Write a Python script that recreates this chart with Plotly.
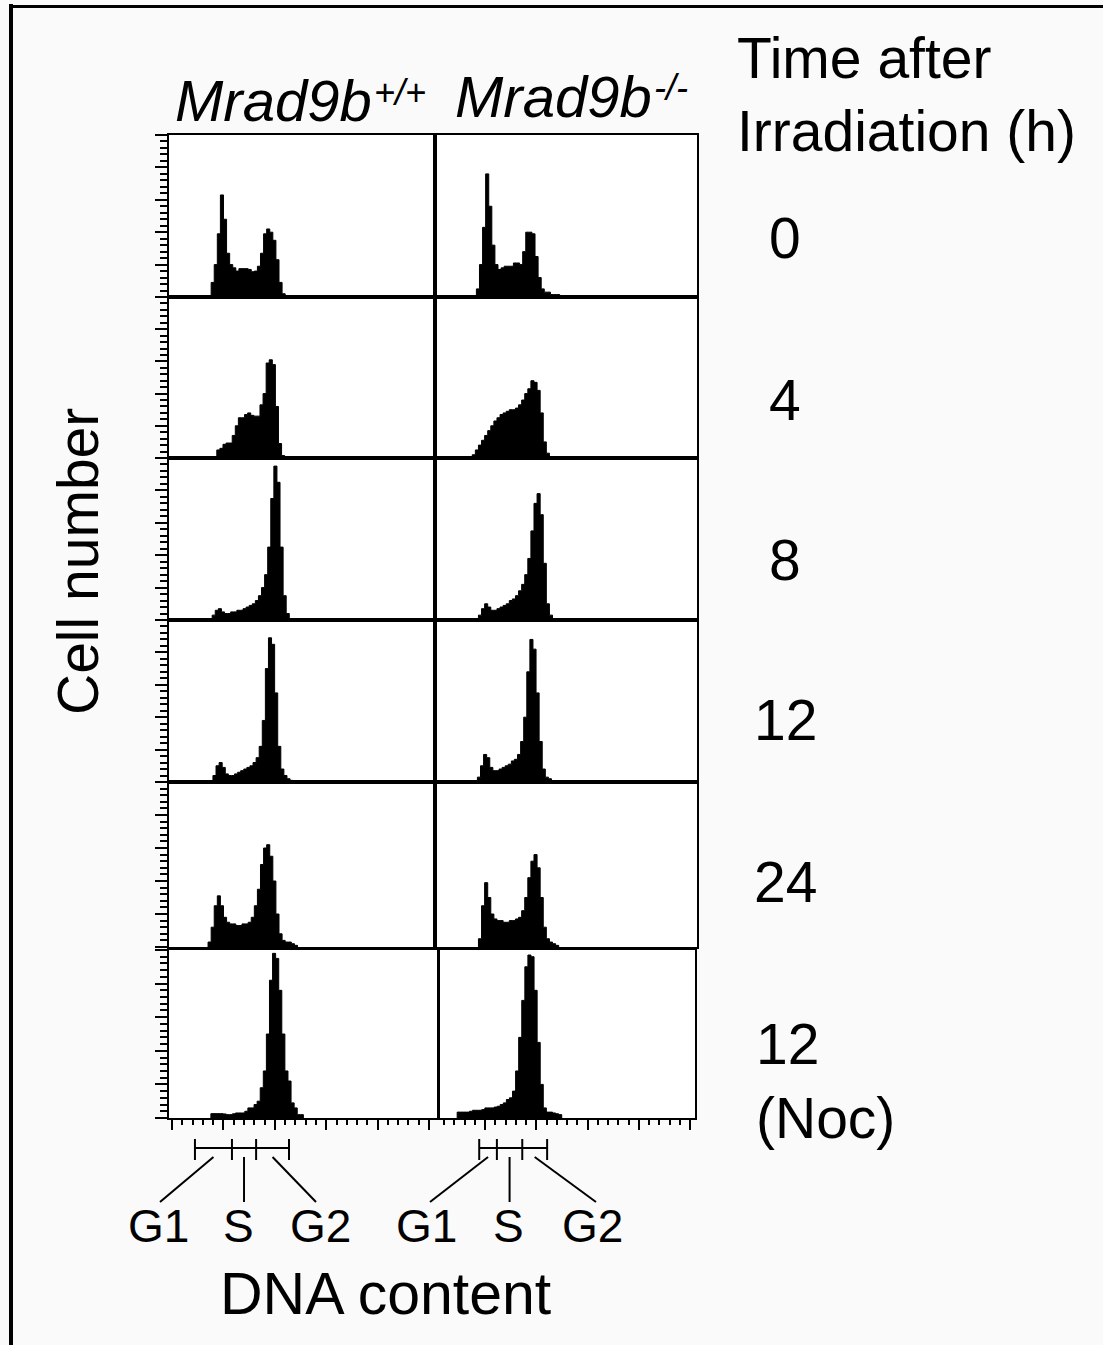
import plotly.graph_objects as go

W, H = 1103, 1345
BIN = 12  # channel width of each histogram bin

# ---------------- data (DNA-content channel histograms, % of panel height) ----------------
times = ["0", "4", "8", "12", "24", "12"]
time_note = "(Noc)"
genotype_base = "Mrad9b"
genotype_sup = ["+/+", "-/-"]
title_lines = ["Time after", "Irradiation (h)"]

# first channel of each histogram (rows = time points)
wt_start = [152, 174, 156, 159, 140, 151]
ko_start = [165, 149, 173, 169, 173, 91]

wt_0h = [9, 20, 39, 63, 48, 27, 20, 18, 16, 17.5, 17.5, 17.5, 17, 15.6, 16, 19, 27, 39, 42, 40, 35, 23, 9, 2]
ko_0h = [5, 20, 43, 76, 56, 32, 20, 17, 18, 19, 19, 19, 21, 21, 20, 28, 40, 40, 39, 25, 12, 5, 3, 3, 1.5, 1.5, 1.5]

wt_4h = [5, 6, 8.5, 9.3, 9.3, 14, 20, 25, 25, 27, 28, 26.5, 26, 26, 33, 40, 59, 61, 58, 32, 9, 1.5]
ko_4h = [2, 5, 8, 11, 14, 17, 20, 23, 25, 27, 28, 29, 30, 30, 31, 33, 36, 40, 43, 48, 47, 42, 28, 10, 3]

wt_8h = [3, 6, 7, 5, 4, 4, 5, 5, 6, 6, 7, 8, 9, 10, 12, 15, 20, 28, 45, 75, 95, 85, 45, 15, 4]
ko_8h = [3, 7, 10, 8, 6, 6, 7, 8, 9, 10, 12, 13, 15, 18, 22, 28, 38, 55, 72, 78, 65, 35, 10, 3]

wt_12h = [4, 10, 12, 9, 5, 4, 4, 5, 6, 7, 8, 9, 10, 12, 15, 22, 38, 70, 89, 85, 55, 22, 8, 4, 2, 1]
ko_12h = [3, 10, 17, 15, 9, 7, 7, 8, 9, 10, 11, 13, 14, 17, 25, 40, 68, 88, 82, 55, 25, 8, 3, 2]

wt_24h = [3, 12, 25, 31, 25, 18, 15, 14, 14, 13, 13, 14, 14, 15, 18, 25, 35, 50, 60, 62, 55, 40, 20, 8, 4, 3, 3, 2, 1]
ko_24h = [5, 25, 39, 30, 20, 17, 16, 16, 15, 15, 16, 16, 17, 18, 22, 30, 42, 52, 56, 48, 30, 12, 5, 3, 2, 1]

wt_noc = [2.6, 2.6, 2.6, 2.6, 2.4, 2, 2, 2.5, 3, 3, 3, 4, 6, 6, 8, 10, 18, 28, 50, 82, 98, 95, 76, 50, 28, 22, 9, 6, 2, 2]
ko_noc = [3.5, 3.5, 3.5, 3.5, 4, 4.6, 4.6, 4.6, 5, 6, 6, 6, 6.5, 7, 8, 9, 11, 12, 16, 28, 48, 70, 90, 97, 96, 76, 45, 20, 6,
          3.5, 3.5, 3, 2.5, 2]

wt_data = [wt_0h, wt_4h, wt_8h, wt_12h, wt_24h, wt_noc]
ko_data = [ko_0h, ko_4h, ko_8h, ko_12h, ko_24h, ko_noc]

# cell-cycle gates (channel boundaries G1 | S | G2) drawn under each column
wt_gates = [89, 233, 327, 455]
ko_gates = [177, 246, 345, 442]
phase_labels = ["G1", "S", "G2"]

# ---------------- layout geometry (pixels) ----------------
rows_px = [(135, 297), (297, 458), (458, 620), (620, 782), (782, 947), (950, 1118)]
cols_px = [(169, 435), (435, 697)]
bottom_cols_px = [(169, 437), (440, 695)]
xranges = [[-12, 1023], [4, 1023]]
bottom_xranges = [[-12, 1031], [24, 1019]]


def px_x(p):
    return p / W


def px_y(p):
    return 1 - p / H


FONT = "Liberation Sans, Arial, Helvetica, sans-serif"
BIG = 57

fig = go.Figure()
layout = dict(
    width=W, height=H, margin=dict(l=0, r=0, t=0, b=0),
    paper_bgcolor="#fafafa", plot_bgcolor="white", showlegend=False,
    font=dict(family=FONT, color="black"),
)

for r in range(6):
    for c in range(2):
        k = r * 2 + c + 1
        sfx = "" if k == 1 else str(k)
        starts = wt_start if c == 0 else ko_start
        counts = (wt_data if c == 0 else ko_data)[r]
        s = starts[r]
        edges = [s + i * BIN for i in range(len(counts) + 1)]
        xs = [edges[0]] + edges[:-1] + [edges[-1]]
        ys = [0] + list(counts) + [0]
        fig.add_trace(go.Scatter(
            x=xs, y=ys, mode="lines", line=dict(color="black", width=1, shape="hv"),
            fill="tozeroy", fillcolor="black", xaxis="x" + sfx, yaxis="y" + sfx,
            hoverinfo="skip",
        ))
        last = r == 5
        cx = bottom_cols_px[c] if last else cols_px[c]
        xr = bottom_xranges[c] if last else xranges[c]
        y0, y1 = rows_px[r]
        xa = dict(
            domain=[px_x(cx[0]), px_x(cx[1])], range=xr, anchor="y" + sfx,
            showgrid=False, zeroline=False, showline=True, linecolor="black",
            linewidth=2, mirror=True, showticklabels=False, fixedrange=True,
        )
        if last:
            xa.update(ticks="outside", ticklen=10, tickwidth=2, tickcolor="black",
                      tick0=0, dtick=200,
                      minor=dict(ticks="outside", ticklen=5, tickwidth=2,
                                 tickcolor="black", tick0=0, dtick=40))
        else:
            xa.update(ticks="")
        ya = dict(
            domain=[px_y(y1), px_y(y0)], range=[0, 100], anchor="x" + sfx,
            showgrid=False, zeroline=False, showline=True, linecolor="black",
            linewidth=2, mirror=True, showticklabels=False, fixedrange=True,
        )
        if c == 0:
            ya.update(ticks="outside", ticklen=12, tickwidth=2, tickcolor="black",
                      tick0=0, dtick=20,
                      minor=dict(ticks="outside", ticklen=7, tickwidth=2,
                                 tickcolor="black", tick0=0, dtick=4))
        else:
            ya.update(ticks="")
        layout["xaxis" + sfx] = xa
        layout["yaxis" + sfx] = ya

fig.update_layout(**layout)

shapes = []
# outer frame (left and top only)
shapes.append(dict(type="line", xref="paper", yref="paper", x0=px_x(11), x1=px_x(11),
                   y0=px_y(4), y1=0, line=dict(color="black", width=4)))
shapes.append(dict(type="line", xref="paper", yref="paper", x0=px_x(9), x1=1,
                   y0=px_y(6.5), y1=px_y(6.5), line=dict(color="black", width=3)))


def ch_to_px(ch, c):
    d0, d1 = bottom_cols_px[c]
    r0, r1 = bottom_xranges[c]
    return d0 + (ch - r0) / (r1 - r0) * (d1 - d0)


def text(x, y, s, size, xanchor="center", italic=False, angle=0):
    fig.add_annotation(x=px_x(x), y=px_y(y), xref="paper", yref="paper", text=s,
                       showarrow=False, xanchor=xanchor, yanchor="middle", textangle=angle,
                       font=dict(size=size, family=FONT, color="black",
                                 style="italic" if italic else "normal"))


leader_ends = [[160, 241, 316], [430, 507, 596]]
label_x = [[158, 238, 320], [426, 508, 592]]
for c, gates in enumerate([wt_gates, ko_gates]):
    gx = [ch_to_px(g, c) for g in gates]
    shapes.append(dict(type="line", xref="paper", yref="paper", x0=px_x(gx[0]), x1=px_x(gx[-1]),
                       y0=px_y(1148), y1=px_y(1148), line=dict(color="black", width=2)))
    for g in gx:
        shapes.append(dict(type="line", xref="paper", yref="paper", x0=px_x(g), x1=px_x(g),
                           y0=px_y(1139), y1=px_y(1160), line=dict(color="black", width=2)))
    for i in range(3):
        mid = (gx[i] + gx[i + 1]) / 2
        x_end = mid if i == 1 else leader_ends[c][i]
        shapes.append(dict(type="line", xref="paper", yref="paper", x0=px_x(mid), x1=px_x(x_end),
                           y0=px_y(1157), y1=px_y(1202), line=dict(color="black", width=2)))
        text(label_x[c][i], 1226, phase_labels[i], 46)

fig.update_layout(shapes=shapes)

# column headers: italic gene name with a smaller raised genotype
base_right = [374, 654]
base_y = [100, 96]
sup_y = [92, 87]
for c in range(2):
    text(base_right[c], base_y[c], genotype_base, 58, xanchor="right", italic=True)
    text(base_right[c] - 2, sup_y[c], genotype_sup[c], 36, xanchor="left", italic=True)

text(735, 58, title_lines[0], BIG, xanchor="left")
text(735, 131, title_lines[1], BIG, xanchor="left")

row_label_y = [238, 400, 560, 720, 882]
for r in range(5):
    text(785, row_label_y[r], times[r], BIG)
text(754, 1044, times[5], BIG, xanchor="left")
text(754, 1118, time_note, BIG, xanchor="left")

text(78, 562, "Cell number", BIG, angle=-90)
text(385, 1294, "DNA content", 59)

# remove the browser's default page margin so the figure fills the window exactly
fig.write_html("out.html", config={"displayModeBar": False},
               post_script="document.body.style.margin='0';")
